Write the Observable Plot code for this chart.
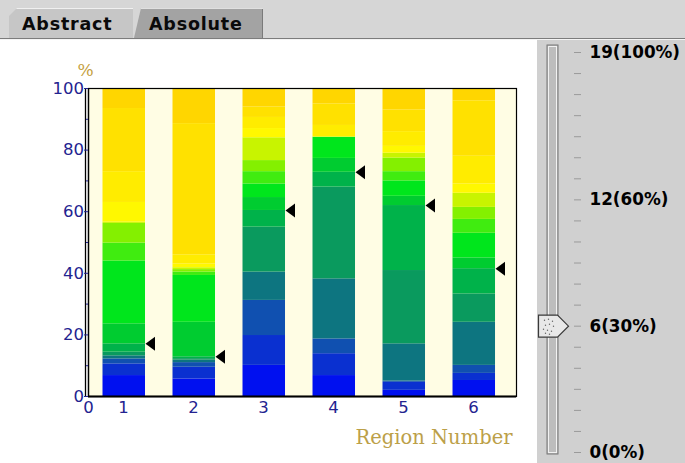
<!DOCTYPE html>
<html><head><meta charset="utf-8">
<script src="https://cdn.jsdelivr.net/npm/d3@7"></script>
<script src="https://cdn.jsdelivr.net/npm/@observablehq/plot@0.6"></script>
<style>
html,body{margin:0;padding:0;width:685px;height:463px;overflow:hidden;background:#fff;}
#root{position:relative;width:685px;height:463px;}
#tabbar{position:absolute;left:0;top:0;width:685px;height:38px;background:#d6d6d6;border-bottom:1px solid #7c7c7c;}
#tabline{position:absolute;left:0;top:39px;width:685px;height:1px;background:#f4f4f4;}
.tab{position:absolute;top:8px;height:30px;font:bold 17.5px "DejaVu Sans",sans-serif;letter-spacing:0.8px;line-height:33px;color:#0a0a0a;box-sizing:border-box;box-shadow:inset 0 1px 0 #f0f0f0;}
#tab1{left:9px;width:124px;background:#c6c6c6;clip-path:polygon(0 8px,8px 0,100% 0,100% 100%,0 100%);padding-left:13px;}
#tab2{left:134px;width:129px;background:#a3a3a3;clip-path:polygon(0 100%,7px 0,100% 0,100% 100%);padding-left:15px;box-shadow:inset 0 1px 0 #e0e0e0, inset -1px 0 0 #7a7a7a;}
#chart{position:absolute;left:0;top:40px;}
#slider{position:absolute;left:537px;top:40px;width:148px;height:423px;background:#d0d0d0;overflow:hidden;}
#slider svg{background:transparent !important;}
</style>
</head><body>
<div id="root">
  <div id="tabbar"></div>
  <div id="tabline"></div>
  <div class="tab" id="tab1">Abstract</div>
  <div class="tab" id="tab2">Absolute</div>
  <div id="chart"></div>
  <div id="slider"></div>
</div>
<script>
// ---- data ----
const regions = [1, 2, 3, 4, 5, 6];
const xTickLabels = ["0", "1", "2", "3", "4", "5", "6"];
const yTicks = [0, 20, 40, 60, 80, 100];
const yMinorTicks = [10, 30, 50, 70, 90];

// colour of each level, from the lowest (blue) to the highest (golden yellow)
const levelColors = [
  "#0010f0", "#0a30d0", "#1050b0", "#0d7580", "#0a9a5e",
  "#00b24a", "#00cc30", "#00e61c", "#40ec10", "#84f000",
  "#c8f400", "#fff800", "#ffec00", "#ffe100", "#ffd600"
];

// cumulative percentage reached at the top of each level, per region
const region1Tops = [6.8, 10.6, 12.2, 13.2, 14.4, 17.1, 23.6, 44.0, 49.8, 56.2, 56.6, 63.0, 73.0, 93.5, 100];
const region2Tops = [5.7, 9.5, 11.0, 11.8, 12.3, 12.9, 24.1, 39.3, 40.4, 41.2, 41.8, 43.0, 46.0, 88.6, 100];
const region3Tops = [10.1, 19.8, 31.2, 40.4, 55.0, 60.4, 64.6, 69.0, 73.0, 76.6, 84.0, 87.0, 90.6, 94.0, 100];
const region4Tops = [6.8, 13.9, 18.7, 38.2, 68.0, 72.8, 77.3, 84.2, 84.2, 84.2, 84.2, 84.4, 88.0, 95.0, 100];
const region5Tops = [2.0, 4.6, 5.0, 17.1, 40.9, 62.0, 65.0, 70.0, 73.0, 77.4, 79.0, 81.2, 86.0, 93.0, 100];
const region6Tops = [5.2, 7.5, 10.1, 24.1, 33.3, 41.5, 45.0, 53.0, 57.5, 61.4, 66.0, 69.0, 78.0, 96.0, 100];

// threshold marker (black triangle) per region, in %
const markerPct = [17.1, 12.9, 60.4, 72.8, 62.0, 41.5];

// slider
const sliderTicks = [0,1,2,3,4,5,6,7,8,9,10,11,12,13,14,15,16,17,18,19];
const sliderLabelValues = [0, 6, 12, 19];
const sliderLabelTexts = ["0(0%)", "6(30%)", "12(60%)", "19(100%)"];
const sliderMin = 0, sliderMax = 19;
const sliderValue = 6;

// ---- build tables ----
const allTops = [region1Tops, region2Tops, region3Tops, region4Tops, region5Tops, region6Tops];
const segments = [];
allTops.forEach((tops, r) => tops.forEach((top, l) => {
  const bottom = l === 0 ? 0 : tops[l - 1];
  if (top > bottom) segments.push({region: regions[r], level: l, y1: bottom, y2: top});
}));
const markers = regions.map((region, i) => ({region, pct: markerPct[i]}));
const xTickPos = [0, ...regions.map(r => r - 0.5)];
const xLabelMap = new Map(xTickPos.map((p, i) => [p, xTickLabels[i]]));
const sliderLabelMap = new Map(sliderLabelValues.map((v, i) => [v, sliderLabelTexts[i]]));

const leftTriangle = {draw(ctx) { ctx.moveTo(-5, 0); ctx.lineTo(4.5, -7); ctx.lineTo(4.5, 7); ctx.closePath(); }};
const thumbShape = {draw(ctx) { ctx.moveTo(-15, -11); ctx.lineTo(4, -11); ctx.lineTo(15, 0); ctx.lineTo(4, 11); ctx.lineTo(-15, 11); ctx.closePath(); }};
const thumbDots = {draw(ctx) {
  [[-9,-6],[-5,-7],[-1,-5],[-8,-1],[-4,-2],[0,0],[-10,3],[-6,4],[-2,5],[-8,7],[-4,8]].forEach(([x,y]) => { ctx.moveTo(x + 0.7, y); ctx.arc(x, y, 0.7, 0, 2 * Math.PI); });
}};

const navy = "#232390";

const chart = Plot.plot({
  width: 537, height: 423,
  marginLeft: 88, marginRight: 21, marginTop: 48, marginBottom: 67,
  x: {domain: [0, 6.114], axis: null, label: null},
  y: {domain: [0, 100], axis: null, label: null},
  color: {type: "ordinal", domain: levelColors.map((_, i) => i), range: levelColors},
  style: {background: "white", fontFamily: "DejaVu Sans"},
  marks: [
    Plot.frame({fill: "#fffde4"}),
    Plot.rect(segments, {x1: d => d.region - 1, x2: d => d.region, y1: "y1", y2: "y2", fill: "level", insetLeft: 14.5, insetRight: 13}),
    Plot.frame({stroke: "#000", strokeWidth: 1.2}),
    Plot.ruleX([0], {stroke: "#000", strokeWidth: 1.3}),
    Plot.ruleX([0], {stroke: "#000", strokeWidth: 1.3, dx: -3}),
    Plot.ruleY([0], {stroke: "#000", strokeWidth: 2}),
    Plot.axisY({ticks: yTicks, tickSize: 4, tickPadding: 0.5, fontSize: 16.5, color: navy, label: null}),
    Plot.axisY({ticks: yMinorTicks, tickSize: 2, tickFormat: () => "", color: navy, label: null}),
    Plot.axisX({ticks: xTickPos, tickSize: 0, tickPadding: 5, tickFormat: d => xLabelMap.get(d), fontSize: 16.5, color: navy, label: null}),
    Plot.dot(markers, {x: "region", y: "pct", symbol: leftTriangle, fill: "#000", stroke: null, dx: -8}),
    Plot.text(["%"], {text: d => d, frameAnchor: "top-left", textAnchor: "middle", lineAnchor: "middle", dx: -3, dy: -17.5, fontFamily: "DejaVu Serif", fontSize: 17, fill: "#c4a040"}),
    Plot.text(["Region Number"], {text: d => d, frameAnchor: "bottom-right", textAnchor: "end", lineAnchor: "middle", dx: -4, dy: 41, fontFamily: "DejaVu Serif", fontSize: 19.5, fill: "#bca048"})
  ]
});
document.getElementById("chart").append(chart);

const slider = Plot.plot({
  width: 148, height: 430,
  marginLeft: 0, marginRight: 112, marginTop: 12, marginBottom: 18,
  y: {domain: [sliderMin, sliderMax], axis: null, label: null},
  style: {background: "transparent", fontFamily: "DejaVu Sans"},
  marks: [
    Plot.rect([{lo: sliderMin, hi: sliderMax}], {y1: "lo", y2: "hi", insetLeft: 10, insetRight: 15, insetTop: -7, insetBottom: -2, fill: "#bdbdbd", stroke: "#777"}),
    Plot.rect([{lo: sliderMin, hi: sliderMax}], {y1: "lo", y2: "hi", insetLeft: 11.5, insetRight: 16.5, insetTop: -5.5, insetBottom: -0.5, fill: "none", stroke: "#f2f2f2"}),
    Plot.axisY({anchor: "right", ticks: sliderTicks, tickSize: 7, tickPadding: 9, tickFormat: d => sliderLabelMap.get(d) ?? "", fontSize: 16.8, fontWeight: "bold", color: "#000", stroke: "#9a9a9a", label: null}),
    Plot.dot([sliderValue], {y: d => d, symbol: thumbShape, fill: "#e8e8e8", stroke: "#3a3a3a", strokeWidth: 1.2, dx: -2}),
    Plot.dot([sliderValue], {y: d => d, symbol: thumbDots, fill: "#666", stroke: null, dx: -2})
  ]
});
document.getElementById("slider").append(slider);
</script>
</body></html>
